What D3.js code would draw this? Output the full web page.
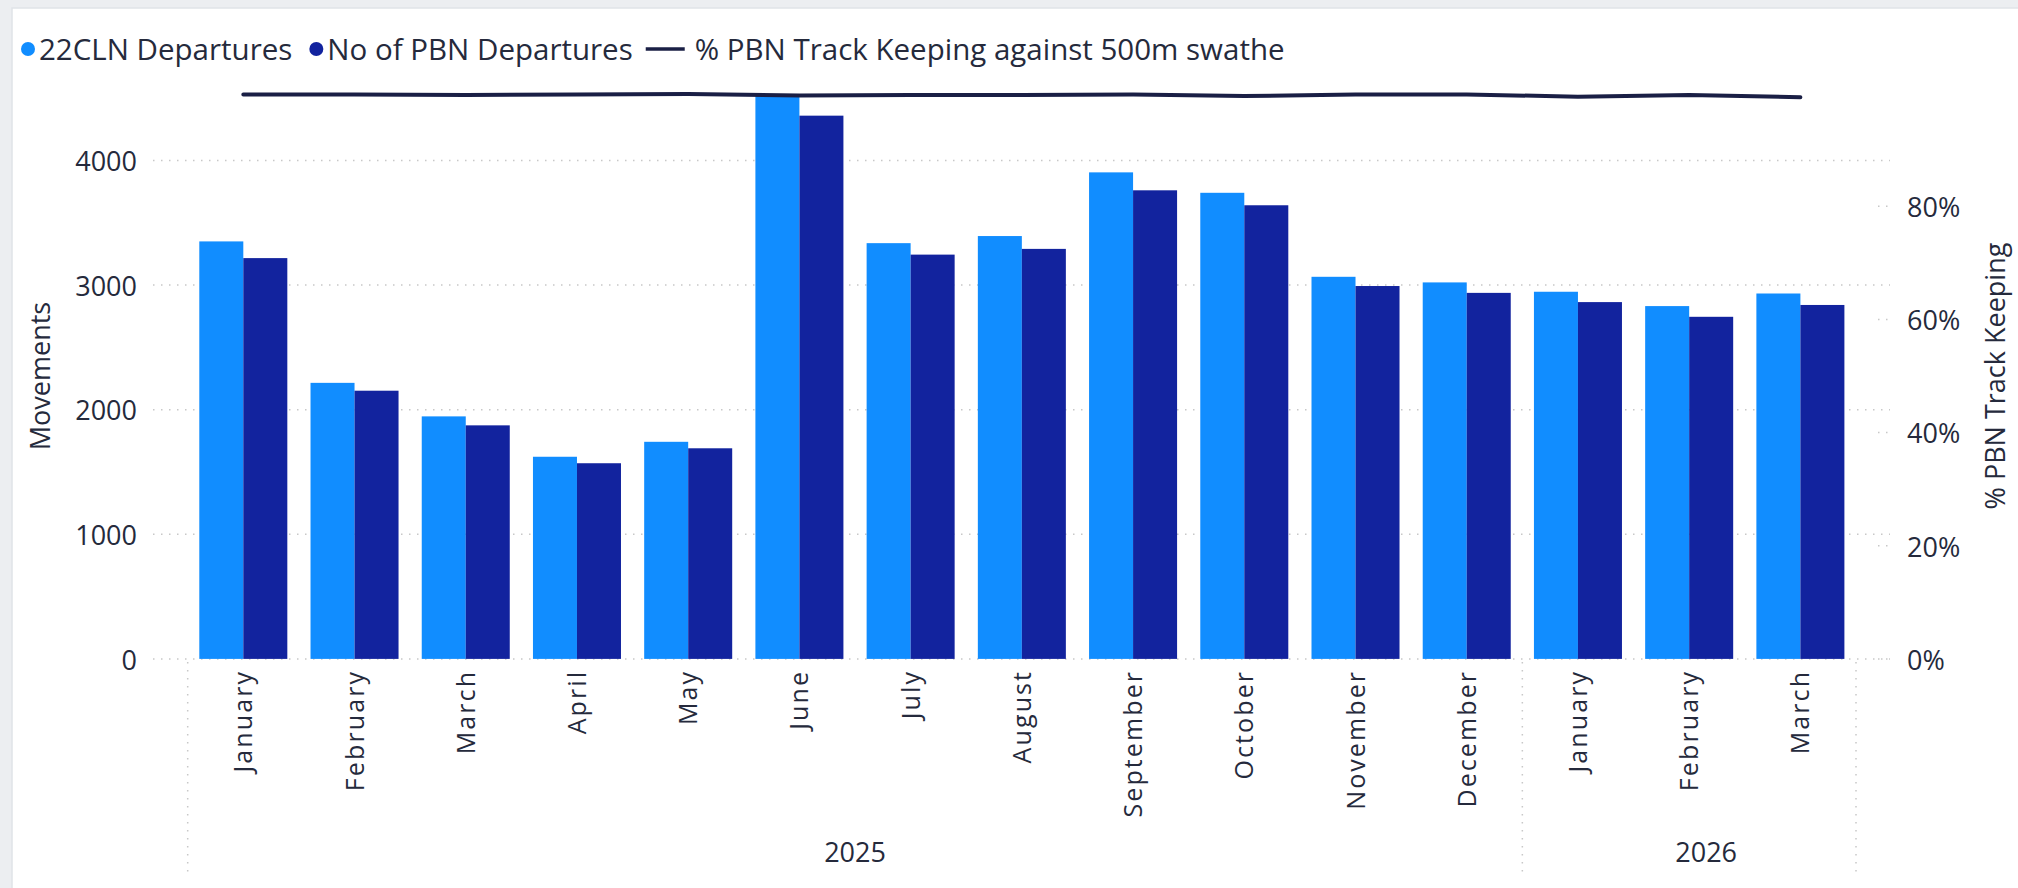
<!DOCTYPE html>
<html>
<head>
<meta charset="utf-8">
<script src="https://cdn.jsdelivr.net/npm/d3@7"></script>
<style>
  html, body { margin: 0; padding: 0; background: #eceef1; }
  svg { display: block; }
  text { font-family: "Segoe UI", "Open Sans", sans-serif; fill: #252a3c; }
</style>
</head>
<body>
<svg id="chart" width="2018" height="888"></svg>
<script>
// categories
var months = ["January", "February", "March", "April", "May", "June", "July", "August",
              "September", "October", "November", "December", "January", "February", "March"];
var years = ["2025", "2025", "2025", "2025", "2025", "2025", "2025", "2025",
             "2025", "2025", "2025", "2025", "2026", "2026", "2026"];

// series
var departures22cln = [3350, 2215, 1946, 1622, 1742, 4530, 3336, 3393, 3904, 3740, 3066, 3021, 2946, 2831, 2932];
var pbnDepartures   = [3216, 2152, 1874, 1570, 1690, 4359, 3244, 3290, 3760, 3640, 2992, 2937, 2863, 2745, 2840];
var trackKeeping    = [0.9975, 0.9975, 0.9966, 0.9975, 0.9984, 0.9956, 0.9966, 0.9966,
                       0.9975, 0.9947, 0.9975, 0.9975, 0.9937, 0.9966, 0.9928];

// ticks
var leftTicks = [0, 1000, 2000, 3000, 4000];
var rightTicks = [0, 0.2, 0.4, 0.6, 0.8];

var seriesNames = ["22CLN Departures", "No of PBN Departures", "% PBN Track Keeping against 500m swathe"];
var barColors = ["#118dff", "#12239e"];
var lineColor = "#1a1f45";

var svg = d3.select("#chart");

// card frame
svg.append("rect")
    .attr("x", 12).attr("y", 8)
    .attr("width", 2020).attr("height", 900)
    .attr("fill", "#ffffff")
    .attr("stroke", "#dfe3e8")
    .attr("stroke-width", 1.5);

var x = d3.scaleBand()
    .domain(d3.range(months.length))
    .range([187.7, 1856])
    .paddingInner(0.2086)
    .paddingOuter(0.1043);

var xSub = d3.scaleBand()
    .domain([0, 1])
    .range([0, x.bandwidth()]);

var yLeft = d3.scaleLinear().domain([0, 4000]).range([658.9, 160.4]);
var yRight = d3.scaleLinear().domain([0, 1]).range([658.9, 93.1]);

var gridLeft = 153, gridRight = 1890;

// gridlines
svg.append("g").selectAll("line")
    .data(leftTicks)
    .enter().append("line")
    .attr("x1", gridLeft).attr("x2", gridRight)
    .attr("y1", function(d){ return yLeft(d); })
    .attr("y2", function(d){ return yLeft(d); })
    .attr("stroke", "#c8c8c8")
    .attr("stroke-width", 1.5)
    .attr("stroke-dasharray", "1.5,6.5");

// short marks for right axis ticks
svg.append("g").selectAll("line")
    .data(rightTicks)
    .enter().append("line")
    .attr("x1", 1878).attr("x2", gridRight)
    .attr("y1", function(d){ return yRight(d); })
    .attr("y2", function(d){ return yRight(d); })
    .attr("stroke", "#c8c8c8")
    .attr("stroke-width", 1.5)
    .attr("stroke-dasharray", "1.5,6.5");

// bars
var groups = svg.append("g").selectAll("g")
    .data(months)
    .enter().append("g")
    .attr("transform", function(d, i){ return "translate(" + x(i) + ",0)"; });

groups.selectAll("rect")
    .data(function(d, i){ return [departures22cln[i], pbnDepartures[i]]; })
    .enter().append("rect")
    .attr("x", function(d, j){ return xSub(j); })
    .attr("width", xSub.bandwidth())
    .attr("y", function(d){ return yLeft(d); })
    .attr("height", function(d){ return yLeft(0) - yLeft(d); })
    .attr("fill", function(d, j){ return barColors[j]; });

// line
var line = d3.line()
    .x(function(d, i){ return x(i) + x.bandwidth() / 2; })
    .y(function(d){ return yRight(d); });

svg.append("path")
    .datum(trackKeeping)
    .attr("d", line)
    .attr("fill", "none")
    .attr("stroke", lineColor)
    .attr("stroke-width", 4)
    .attr("stroke-linecap", "round")
    .attr("stroke-linejoin", "round");

// left axis
var axL = svg.append("g")
    .attr("transform", "translate(" + gridLeft + ",0)")
    .call(d3.axisLeft(yLeft).tickValues(leftTicks).tickSize(0).tickPadding(16).tickFormat(d3.format("d")));
axL.select(".domain").remove();
axL.selectAll("text").style("font-size", "27px").style("font-family", null).attr("dy", "0.38em");

// right axis
var axR = svg.append("g")
    .attr("transform", "translate(" + gridRight + ",0)")
    .call(d3.axisRight(yRight).tickValues(rightTicks).tickSize(0).tickPadding(17).tickFormat(d3.format(".0%")));
axR.select(".domain").remove();
axR.selectAll("text").style("font-size", "27px").style("font-family", null).attr("dy", "0.38em");

// bottom axis with month labels
var axB = svg.append("g")
    .attr("transform", "translate(0," + yLeft(0) + ")")
    .call(d3.axisBottom(x).tickSize(0).tickFormat(function(i){ return months[i]; }));
axB.select(".domain").remove();
axB.selectAll("text")
    .style("font-size", "25px")
    .style("font-family", null)
    .style("letter-spacing", "2.1px")
    .attr("transform", "rotate(-90)")
    .attr("x", -11)
    .attr("y", 0)
    .attr("dy", "0.36em")
    .attr("text-anchor", "end");

// year groups
var yearNames = Array.from(new Set(years));
var yearSpans = yearNames.map(function(yr){
    var idx = d3.range(years.length).filter(function(i){ return years[i] == yr; });
    return {year: yr, x0: x(idx[0]) - x.step() * x.paddingInner() / 2,
            x1: x(idx[idx.length - 1]) + x.bandwidth() + x.step() * x.paddingInner() / 2};
});
var bounds = [yearSpans[0].x0].concat(yearSpans.map(function(s){ return s.x1; }));

svg.append("g").selectAll("line")
    .data(bounds)
    .enter().append("line")
    .attr("x1", function(d){ return d; }).attr("x2", function(d){ return d; })
    .attr("y1", yLeft(0) + 3).attr("y2", 876)
    .attr("stroke", "#c8c8c8")
    .attr("stroke-width", 1.5)
    .attr("stroke-dasharray", "1.5,6.5");

// the last year label sits centred up to the end of the gridlines
svg.append("g").selectAll("text")
    .data(yearSpans)
    .enter().append("text")
    .attr("x", function(d, i){
        var right = (i == yearSpans.length - 1) ? Math.max(d.x1, gridRight) : d.x1;
        return (d.x0 + right) / 2;
    })
    .attr("y", 852)
    .attr("dy", "0.36em")
    .attr("text-anchor", "middle")
    .style("font-size", "27px")
    .text(function(d){ return d.year; });

// axis titles
svg.append("text")
    .attr("transform", "translate(40," + ((yLeft(0) + yRight(1)) / 2) + ") rotate(-90)")
    .attr("text-anchor", "middle")
    .attr("dy", "0.36em")
    .style("font-size", "27px")
    .text("Movements");

svg.append("text")
    .attr("transform", "translate(1995," + ((yLeft(0) + yRight(1)) / 2) + ") rotate(-90)")
    .attr("text-anchor", "middle")
    .attr("dy", "0.36em")
    .style("font-size", "27px")
    .text("% PBN Track Keeping");

// legend
var legend = svg.append("g").attr("transform", "translate(0,49)");
var lx = 28;
seriesNames.forEach(function(name, i){
    if(i < 2){
        legend.append("circle").attr("cx", lx).attr("cy", 0).attr("r", 7).attr("fill", barColors[i]);
        lx += 11;
    }else{
        legend.append("line")
            .attr("x1", lx - 11).attr("x2", lx + 28)
            .attr("y1", 0).attr("y2", 0)
            .attr("stroke", lineColor).attr("stroke-width", 3.5);
        lx += 38;
    }
    var t = legend.append("text")
        .attr("x", lx).attr("y", 0).attr("dy", "0.36em")
        .style("font-size", "29.5px")
        .text(name);
    lx += t.node().getComputedTextLength() + 24;
});
</script>
</body>
</html>
